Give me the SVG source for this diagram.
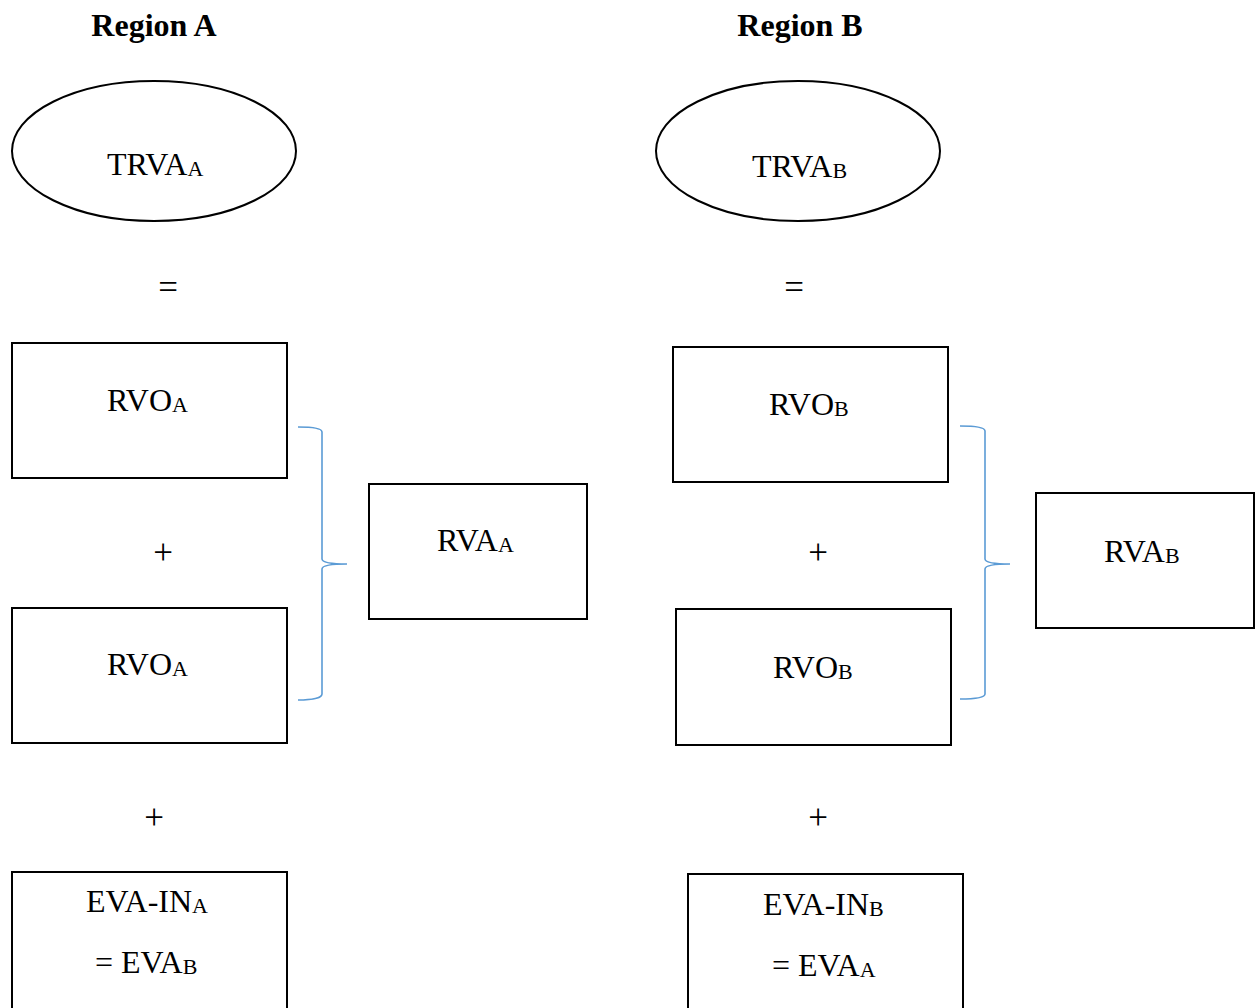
<svg xmlns="http://www.w3.org/2000/svg" width="1255" height="1008" viewBox="0 0 1255 1008">
<style>
text{font-family:"Liberation Serif","Times New Roman",serif;fill:#000}
.t{font-size:32px}
.o{font-size:35px}
.h{font-size:32px;font-weight:bold}
.s{font-size:22px}
.box{fill:#fff;stroke:#000;stroke-width:2}
.br{fill:none;stroke:#5B9BD5;stroke-width:1.6}
</style>
<rect width="1255" height="1008" fill="#fff"/>
<text class="h" x="154" y="36" text-anchor="middle">Region A</text>
<text class="h" x="800" y="36" text-anchor="middle">Region B</text>

<g id="trva-a"><ellipse class="box" cx="154" cy="151" rx="142" ry="70"/><text class="t" x="107" y="175">TRVA<tspan class="s" dy="1">A</tspan></text></g>
<g id="trva-b"><ellipse class="box" cx="798" cy="151" rx="142" ry="70"/><text class="t" x="752" y="177">TRVA<tspan class="s" dy="1">B</tspan></text></g>

<text class="o" x="168" y="299" text-anchor="middle">=</text>
<text class="o" x="794" y="299" text-anchor="middle">=</text>

<g id="rvo-a1"><rect class="box" x="12" y="343" width="275" height="135"/><text class="t" x="107" y="411">RVO<tspan class="s" dy="1">A</tspan></text></g>
<text class="o" x="163" y="564" text-anchor="middle">+</text>
<g id="rvo-a2"><rect class="box" x="12" y="608" width="275" height="135"/><text class="t" x="107" y="675">RVO<tspan class="s" dy="1">A</tspan></text></g>
<text class="o" x="154" y="829" text-anchor="middle">+</text>
<g id="evain-a"><rect class="box" x="12" y="872" width="275" height="140"/><text class="t" x="86" y="912">EVA-IN<tspan class="s" dy="1">A</tspan></text><text class="t" x="95" y="973">= EVA<tspan class="s" dy="1">B</tspan></text></g>
<g id="rva-a"><rect class="box" x="369" y="484" width="218" height="135"/><text class="t" x="437" y="551">RVA<tspan class="s" dy="1">A</tspan></text></g>

<g id="rvo-b1"><rect class="box" x="673" y="347" width="275" height="135"/><text class="t" x="769" y="415">RVO<tspan class="s" dy="1">B</tspan></text></g>
<text class="o" x="818" y="564" text-anchor="middle">+</text>
<g id="rvo-b2"><rect class="box" x="676" y="609" width="275" height="136"/><text class="t" x="773" y="678">RVO<tspan class="s" dy="1">B</tspan></text></g>
<text class="o" x="818" y="829" text-anchor="middle">+</text>
<g id="evain-b"><rect class="box" x="688" y="874" width="275" height="140"/><text class="t" x="763" y="915">EVA-IN<tspan class="s" dy="1">B</tspan></text><text class="t" x="772" y="976">= EVA<tspan class="s" dy="1">A</tspan></text></g>
<g id="rva-b"><rect class="box" x="1036" y="493" width="218" height="135"/><text class="t" x="1104" y="562">RVA<tspan class="s" dy="1">B</tspan></text></g>

<g id="connectors">
<path class="br" d="M298,427 C312,427 322,428 322,432 L322,559 C322,563 335,564 347,564 C335,564 322,565 322,569 L322,694 C322,698 312,700 298,700"/>
<path class="br" d="M960,426 C975,426 985,427 985,431 L985,559 C985,563 998,564 1010,564 C998,564 985,565 985,569 L985,694 C985,698 975,699 960,699"/>
</g>
</svg>
